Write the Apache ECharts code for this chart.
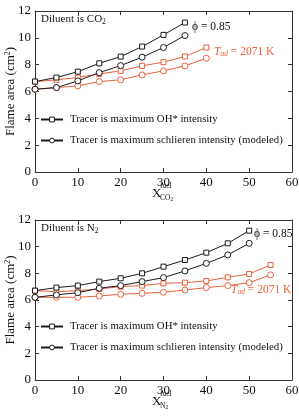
<!DOCTYPE html>
<html><head><meta charset="utf-8">
<script src="https://cdn.jsdelivr.net/npm/echarts@6/dist/echarts.min.js"></script>
<style>html,body{margin:0;padding:0;background:#fff}#c{width:299px;height:418px}</style>
</head><body><div id="c"></div>
<script>
// ---- data ----
const xCO2Black = [0,5,10,15,20,25,30,35];
const xCO2Orange = [0,5,10,15,20,25,30,35,40];
const co2OHphi = [6.74,7.04,7.48,8.1,8.6,9.35,10.22,11.14];
const co2Schphi = [6.17,6.29,6.79,7.41,7.93,8.56,9.28,10.17];
const co2OHtad = [6.74,6.87,7.04,7.31,7.54,7.91,8.19,8.61,9.28];
const co2Schtad = [6.17,6.29,6.42,6.74,6.87,7.24,7.54,7.91,8.48];

const xN2Black = [0,5,10,15,20,25,30,35,40,45,50];
const xN2Orange = [0,5,10,15,20,25,30,35,40,45,50,55];
const n2OHphi = [6.7,6.93,7.08,7.38,7.63,8.0,8.5,9.0,9.55,10.25,11.2];
const n2Schphi = [6.2,6.38,6.55,6.88,7.08,7.38,7.68,8.18,8.75,9.38,10.25];
const n2OHtad = [6.7,6.63,6.7,6.83,7.0,7.08,7.25,7.3,7.43,7.7,7.95,8.63];
const n2Schtad = [6.2,6.2,6.2,6.3,6.43,6.5,6.58,6.75,6.93,7.08,7.3,7.88];

const xTicks = [0,10,20,30,40,50,60];
const yTicks = [0,2,4,6,8,10,12];

const nameOH = 'Tracer is maximum OH* intensity';
const nameSch = 'Tracer is maximum schlieren intensity (modeled)';

const BLACK = '#1a1a1a';
const ORANGE = '#e8603c';
const FONT = 'Liberation Serif';

const chart = echarts.init(document.getElementById('c'));

function zip(xs, ys){ return xs.map((x,i)=>[x, ys[i]]); }

function xAx(gi, pos){
  return {gridIndex: gi, type:'value', min: xTicks[0], max: xTicks[xTicks.length-1], interval: 10, position: pos,
    axisLine:{show:true, onZero:false, lineStyle:{color:'#333', width:1}},
    axisTick:{show:true, inside:true, length:4, lineStyle:{color:'#333'}},
    axisLabel:{show: pos==='bottom', fontFamily: FONT, fontSize: 13, color:'#111', margin: 4},
    splitLine:{show:false}};
}
function yAx(gi, pos){
  return {gridIndex: gi, type:'value', min: yTicks[0], max: yTicks[yTicks.length-1], interval: 2, position: pos,
    axisLine:{show:true, onZero:false, lineStyle:{color:'#333', width:1}},
    axisTick:{show:true, inside:true, length:4, lineStyle:{color:'#333'}},
    axisLabel:{show: pos==='left', fontFamily: FONT, fontSize: 13, color:'#111', margin: 4},
    splitLine:{show:false},
    name: pos==='left' ? '{a|Flame area (cm}{s|2}{a|)}' : '',
    nameLocation:'middle', nameGap: 17, nameMoveOverlap: false,
    nameTextStyle:{rich:{a:{fontFamily:FONT, fontSize:13, color:'#111'}, s:{fontFamily:FONT, fontSize:8, color:'#111', verticalAlign:'top', padding:[0,0,6,0]}}}
  };
}

function ser(name, xi, yi, xs, ys, color, sym){
  return {name, type:'line', xAxisIndex: xi, yAxisIndex: yi, data: zip(xs, ys),
    symbol: sym==='sq' ? 'rect' : 'circle', symbolSize: sym==='sq' ? 5 : 6,
    showSymbol:true,
    itemStyle:{color:'#fff', borderColor: color, borderWidth: 1},
    lineStyle:{color: color, width: 1}, emphasis:{disabled:true}, animation:false, z: color===BLACK?3:2};
}

const legendBase = {orient:'vertical', left:35, itemWidth:22, itemHeight:6, itemGap:10,
  itemStyle:{color:'#fff', borderColor:BLACK, borderWidth:1},
  textStyle:{fontFamily:FONT, fontSize:10.8, color:'#111', padding:[0,0,0,2]}, selectedMode:false};

const option = {
  animation:false,
  grid:[
    {left:35, right:7, top:11, height:161, outerBoundsMode:'none', containLabel:false},
    {left:35, right:7, top:220, height:160, outerBoundsMode:'none', containLabel:false}
  ],
  xAxis:[xAx(0,'bottom'), xAx(0,'top'), xAx(1,'bottom'), xAx(1,'top')],
  yAxis:[yAx(0,'left'), yAx(0,'right'), yAx(1,'left'), yAx(1,'right')],
  legend:[
    Object.assign({}, legendBase, {data:[nameOH, nameSch], top:109}),
    Object.assign({}, legendBase, {data:[nameOH+' ', nameSch+' '], top:316})
  ],
  series:[
    ser('co2oht',0,0,xCO2Orange,co2OHtad,ORANGE,'sq'),
    ser('co2scht',0,0,xCO2Orange,co2Schtad,ORANGE,'ci'),
    ser(nameOH,0,0,xCO2Black,co2OHphi,BLACK,'sq'),
    ser(nameSch,0,0,xCO2Black,co2Schphi,BLACK,'ci'),
    ser('n2oht',2,2,xN2Orange,n2OHtad,ORANGE,'sq'),
    ser('n2scht',2,2,xN2Orange,n2Schtad,ORANGE,'ci'),
    ser(nameOH+' ',2,2,xN2Black,n2OHphi,BLACK,'sq'),
    ser(nameSch+' ',2,2,xN2Black,n2Schphi,BLACK,'ci')
  ],
  graphic:[
    // panel labels
    {type:'text', left:41, top:14, style:{rich:{a:{fontFamily:FONT,fontSize:11,fill:'#111'}, s:{fontFamily:FONT,fontSize:7.5,fill:'#111',padding:[6,0,0,0]}}, text:'{a|Diluent is CO}{s|2}'}},
    {type:'text', left:41, top:223, style:{rich:{a:{fontFamily:FONT,fontSize:11,fill:'#111'}, s:{fontFamily:FONT,fontSize:7.5,fill:'#111',padding:[6,0,0,0]}}, text:'{a|Diluent is N}{s|2}'}},
    // phi annotations
    {type:'text', left:192, top:21, style:{text:'ϕ = 0.85', fontFamily:FONT, fontSize:11.5, fill:'#111'}},
    {type:'text', left:254, top:228, style:{text:'ϕ = 0.85', fontFamily:FONT, fontSize:11.5, fill:'#111'}},
    // T_ad annotations
    {type:'text', left:214, top:46, style:{rich:{a:{fontFamily:FONT,fontSize:11.5,fill:ORANGE}, i:{fontFamily:FONT,fontSize:11.5,fontStyle:'italic',fill:ORANGE}, s:{fontFamily:FONT,fontSize:7.5,fontStyle:'italic',fill:ORANGE,padding:[5,0,0,0]}}, text:'{i|T}{s|ad}{a| = 2071 K}'}},
    {type:'text', left:231, top:284, style:{rich:{a:{fontFamily:FONT,fontSize:11.5,fill:ORANGE}, i:{fontFamily:FONT,fontSize:11.5,fontStyle:'italic',fill:ORANGE}, s:{fontFamily:FONT,fontSize:7.5,fontStyle:'italic',fill:ORANGE,padding:[5,0,0,0]}}, text:'{i|T}{s|ad}{a| = 2071 K}'}},
    // x-axis names
    {type:'text', left:152, top:187, style:{text:'X', fontFamily:FONT, fontSize:13, fill:'#111'}},
    {type:'text', left:160, top:182, style:{text:'fuel', fontFamily:FONT, fontSize:7.5, fill:'#111'}},
    {type:'text', left:160, top:194, style:{rich:{a:{fontFamily:FONT,fontSize:7.5,fill:'#111'}, s:{fontFamily:FONT,fontSize:5.5,fill:'#111',padding:[4,0,0,0]}}, text:'{a|CO}{s|2}'}},
    {type:'text', left:152, top:395, style:{text:'X', fontFamily:FONT, fontSize:13, fill:'#111'}},
    {type:'text', left:160, top:390, style:{text:'fuel', fontFamily:FONT, fontSize:7.5, fill:'#111'}},
    {type:'text', left:160, top:402, style:{rich:{a:{fontFamily:FONT,fontSize:7.5,fill:'#111'}, s:{fontFamily:FONT,fontSize:5.5,fill:'#111',padding:[4,0,0,0]}}, text:'{a|N}{s|2}'}}
  ]
};
chart.setOption(option);
</script></body></html>
